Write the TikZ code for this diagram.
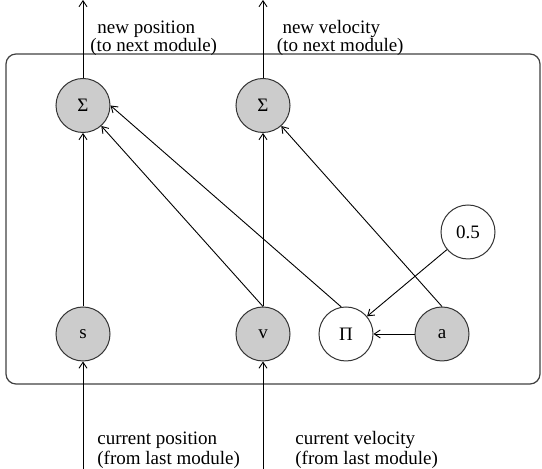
\documentclass[tikz,border=0pt]{standalone}
\usepackage{fontspec}
\setmainfont{Liberation Serif}
\usetikzlibrary{arrows.meta}
\begin{document}
\begin{tikzpicture}[x=0.5pt,y=-0.5pt,
  every node/.style={font=\fontsize{9.5}{10}\selectfont},
  unit/.style={circle,draw=black!80,line width=0.5pt,minimum size=27pt,inner sep=0pt},
  obs/.style={unit,fill=black!20},
  conn/.style={line width=0.45pt,-{Straight Barb[length=3pt,width=4pt]}},
  lbl/.style={align=left,anchor=west,inner sep=0pt}]
\useasboundingbox (0,0) rectangle (542,469);
\draw[rounded corners=5pt,line width=0.6pt,draw=black!75] (6,54) rectangle (540,384);

\node[obs]  (S1)   at (83,105.5) {Σ};
\node[obs]  (S2)   at (263,105.5) {Σ};
\node[obs]  (s)    at (83,334) {s};
\node[obs]  (v)    at (263,334) {v};
\node[unit] (P)    at (346,334) {Π};
\node[obs]  (a)    at (442,334) {a};
\node[unit] (half) at (468,232) {0.5};

\coordinate (o1) at (83,0);
\coordinate (o2) at (263,0);
\coordinate (i1) at (83,469);
\coordinate (i2) at (263,469);

\draw[conn] (S1.north) -- (o1);
\draw[conn] (S2.north) -- (o2);
\draw[conn] (i1) -- (s.south);
\draw[conn] (i2) -- (v.south);
\draw[conn] (s.north) -- (S1.south);
\draw[conn] (v.north) -- (S2.south);
\draw[conn] (v.north) -- (S1);
\draw[conn] (P.100) -- (S1.east);
\draw[conn] (a.north) -- (S2);
\draw[conn] (half) -- (P);
\draw[conn] (a) -- (P);

\node[lbl,font=\fontsize{9.5}{9}\selectfont] (t1) at (90,38) {\hspace{3.5pt}new position\\(to next module)};
\node[lbl,font=\fontsize{9.5}{9}\selectfont] (t2) at (276.5,38) {\hspace{2.8pt}new velocity\\(to next module)};
\node[lbl] (b1) at (97,450) {current position\\(from last module)};
\node[lbl] (b2) at (295,450) {current velocity\\(from last module)};
\end{tikzpicture}
\end{document}
